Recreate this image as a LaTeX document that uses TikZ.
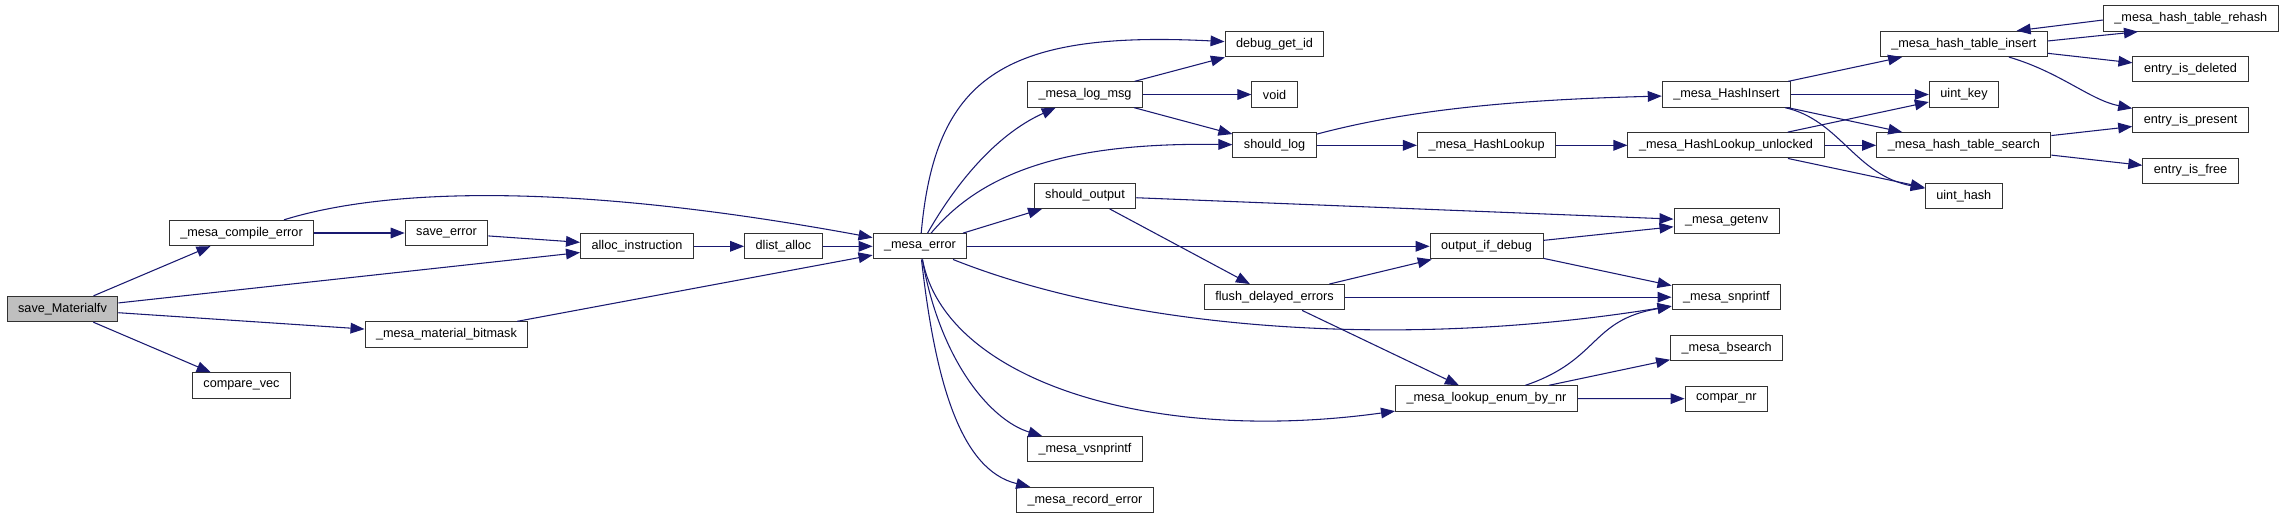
\documentclass[tikz,border=0pt]{standalone}
\usepackage{fontspec}
\setmainfont{Liberation Sans}
\usetikzlibrary{arrows.meta}
\definecolor{callblue}{RGB}{25,25,112}
\definecolor{rootgray}{RGB}{191,191,191}
\definecolor{frame}{RGB}{50,50,50}

\begin{document}
\begin{tikzpicture}[x=0.75pt,y=-0.75pt,
  fn/.style={draw=frame,line width=0.75pt,fill=white,inner xsep=8.3pt,inner ysep=0pt,
     minimum height=19pt,font=\fontsize{9.5}{11}\selectfont},
  root/.style={fn,fill=rootgray},
  call/.style={draw=callblue,line width=0.8pt,-{Triangle[length=10.5pt,width=8pt]}}]
\useasboundingbox (0,0) rectangle (2285,519);
\node[root] (save) at (62.5,309) {save\_Materialfv};
\node[fn] (compileerr) at (241.5,233) {\_mesa\_compile\_error};
\node[fn] (saveerr) at (446.5,233) {save\_error};
\node[fn] (bitmask) at (446.5,334.5) {\_mesa\_material\_bitmask};
\node[fn] (cmpvec) at (241.5,385.5) {compare\_vec};
\node[fn] (allocinst) at (637,246.3) {alloc\_instruction};
\node[fn] (dlist) at (783.5,246.3) {dlist\_alloc};
\node[fn] (mesaerr) at (920,246.3) {\_mesa\_error};
\node[fn] (logmsg) at (1085,94.5) {\_mesa\_log\_msg};
\node[fn] (shouldout) at (1085,195.7) {should\_output};
\node[fn] (vsnpr) at (1085,449.3) {\_mesa\_vsnprintf};
\node[fn] (recerr) at (1085,500) {\_mesa\_record\_error};
\node[fn] (dbgid) at (1274.5,44.2) {debug\_get\_id};
\node[fn] (void) at (1274.6,94.5) {void};
\node[fn] (shouldlog) at (1274.6,145.3) {should\_log};
\node[fn] (flush) at (1274.5,297.2) {flush\_delayed\_errors};
\node[fn] (hlookup) at (1486.6,145.3) {\_mesa\_HashLookup};
\node[fn] (outdbg) at (1486.6,246.3) {output\_if\_debug};
\node[fn] (lookupenum) at (1486.5,398.5) {\_mesa\_lookup\_enum\_by\_nr};
\node[fn] (hinsert) at (1726.5,94.5) {\_mesa\_HashInsert};
\node[fn] (hlunl) at (1726,145.3) {\_mesa\_HashLookup\_unlocked};
\node[fn] (getenv) at (1726.6,221.2) {\_mesa\_getenv};
\node[fn] (snpr) at (1726.4,297.2) {\_mesa\_snprintf};
\node[fn] (bsearch) at (1726.7,347.8) {\_mesa\_bsearch};
\node[fn] (comparnr) at (1726.4,398.7) {compar\_nr};
\node[fn] (htinsert) at (1963.8,43.9) {\_mesa\_hash\_table\_insert};
\node[fn] (ukey) at (1964,94.5) {uint\_key};
\node[fn] (htsearch) at (1963.8,145.3) {\_mesa\_hash\_table\_search};
\node[fn] (uhash) at (1963.8,195.8) {uint\_hash};
\node[fn] (rehash) at (2190.8,18.5) {\_mesa\_hash\_table\_rehash};
\node[fn] (edel) at (2190.5,69.3) {entry\_is\_deleted};
\node[fn] (epres) at (2190.6,120) {entry\_is\_present};
\node[fn] (efree) at (2190.5,170.7) {entry\_is\_free};

\draw[call] (save)--(compileerr);
\draw[call] (save)--(allocinst);
\draw[call] (save)--(bitmask);
\draw[call] (save)--(cmpvec);
\draw[call] (compileerr)--(saveerr);
\draw[call] (compileerr) .. controls (380,190) and (560,180) .. (mesaerr);
\draw[call] (saveerr)--(allocinst);
\draw[call] (allocinst)--(dlist);
\draw[call] (dlist)--(mesaerr);
\draw[call] (bitmask)--(mesaerr);
\draw[call] (mesaerr) .. controls (935,80) and (1000,30) .. (dbgid);
\draw[call] (mesaerr) .. controls (955,185) and (995,135) .. (logmsg);
\draw[call] (mesaerr) .. controls (980,175) and (1060,142) .. (shouldlog);
\draw[call] (mesaerr)--(shouldout);
\draw[call] (mesaerr)--(outdbg);
\draw[call] (mesaerr) .. controls (1130,330) and (1400,350) .. (snpr);
\draw[call] (mesaerr) .. controls (945,380) and (1150,445) .. (lookupenum);
\draw[call] (mesaerr) .. controls (940,360) and (990,420) .. (vsnpr);
\draw[call] (mesaerr) .. controls (935,380) and (960,470) .. (recerr);
\draw[call] (logmsg)--(dbgid);
\draw[call] (logmsg)--(void);
\draw[call] (logmsg)--(shouldlog);
\draw[call] (shouldlog) .. controls (1400,112) and (1500,100) .. (hinsert);
\draw[call] (shouldlog)--(hlookup);
\draw[call] (hlookup)--(hlunl);
\draw[call] (shouldout)--(getenv);
\draw[call] (shouldout)--(flush);
\draw[call] (outdbg)--(getenv);
\draw[call] (outdbg)--(snpr);
\draw[call] (flush)--(outdbg);
\draw[call] (flush)--(snpr);
\draw[call] (flush)--(lookupenum);
\draw[call] (lookupenum) .. controls (1600,360) and (1590,320) .. (snpr);
\draw[call] (lookupenum)--(bsearch);
\draw[call] (lookupenum)--(comparnr);
\draw[call] (hinsert)--(htinsert);
\draw[call] (hinsert)--(ukey);
\draw[call] (hinsert)--(htsearch);
\draw[call] (hinsert) .. controls (1840,120) and (1855,175) .. (uhash);
\draw[call] (hlunl)--(ukey);
\draw[call] (hlunl)--(htsearch);
\draw[call] (hlunl)--(uhash);
\draw[call] (htinsert.2)--(rehash.194);
\draw[call] (rehash.181)--(htinsert.14);
\draw[call] (htinsert)--(edel);
\draw[call] (htinsert) .. controls (2060,72) and (2090,100) .. (epres);
\draw[call] (htsearch)--(epres);
\draw[call] (htsearch)--(efree);
\end{tikzpicture}
\end{document}
